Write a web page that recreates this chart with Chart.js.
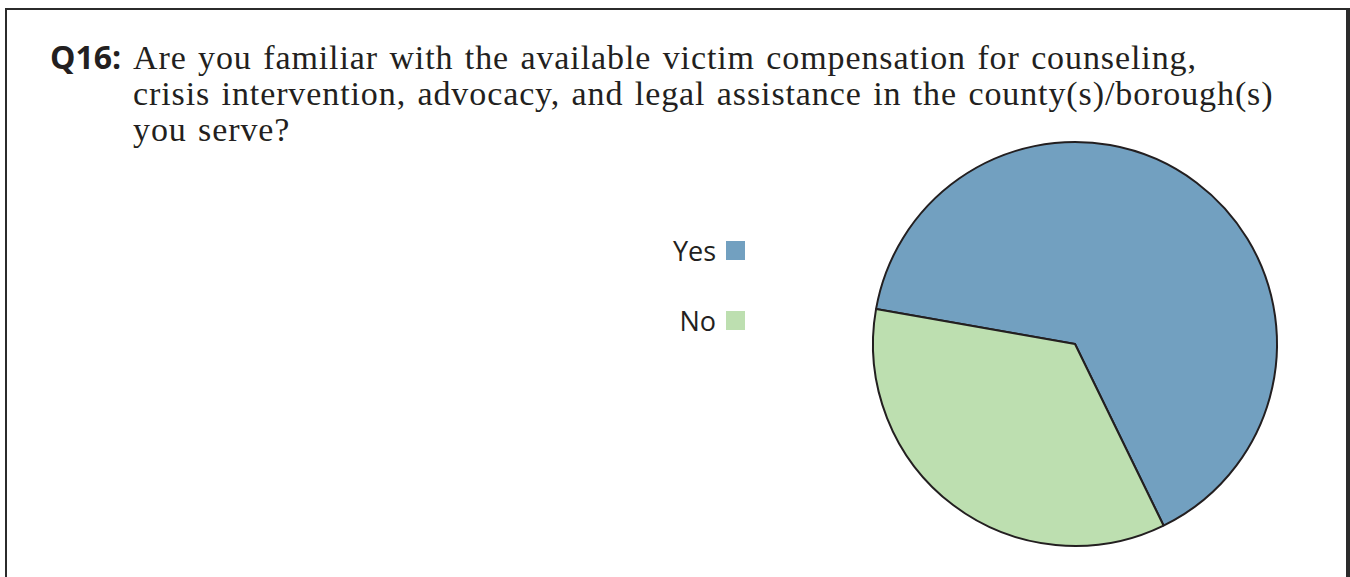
<!DOCTYPE html>
<html>
<head>
<meta charset="utf-8">
<script src="https://cdn.jsdelivr.net/npm/chart.js@4/dist/chart.umd.min.js"></script>
<style>
  html, body { margin: 0; padding: 0; background: #fff; }
  body { width: 1350px; height: 577px; position: relative; overflow: hidden; }
  .frame {
    position: absolute; left: 5px; top: 8px; width: 1345px; height: 600px;
    border-left: 2.5px solid #2b2b2b; border-top: 2.5px solid #2b2b2b;
    border-right: 4px solid #2b2b2b; box-sizing: border-box;
  }
  .qnum {
    position: absolute; left: 50px; top: 39px;
    font-family: "Open Sans", sans-serif; font-weight: 700; font-size: 32px;
    line-height: 36px; color: #231f20;
  }
  .qtext {
    position: absolute; left: 133px; top: 40px;
    font-family: "Liberation Serif", serif; font-size: 34px; line-height: 36px;
    letter-spacing: 0.9px; word-spacing: 2px;
    color: #231f20; white-space: nowrap;
  }
  #legend { position: absolute; left: 600px; top: 230px; width: 145px; }
  .item {
    display: flex; justify-content: flex-end; align-items: center;
    height: 40px; margin-bottom: 30px;
    font-family: "Open Sans", sans-serif; font-size: 27px; color: #231f20;
  }
  .item .box { width: 19px; height: 19px; margin-left: 10px; }
  #pie { position: absolute; left: 865px; top: 134px; }
</style>
</head>
<body>
<div class="frame"></div>
<div class="qnum">Q16:</div>
<div class="qtext">Are you familiar with the available victim compensation for counseling,<br>crisis intervention, advocacy, and legal assistance in the county(s)/borough(s)<br>you serve?</div>
<div id="legend"></div>
<canvas id="pie" width="420" height="420"></canvas>
<script>
// Survey answers and their share of respondents (%)
const answers = ['Yes', 'No'];
const shares = [65, 35];
const sliceColors = ['#72a0c0', '#bddfb0'];

const chart = new Chart(document.getElementById('pie'), {
  type: 'pie',
  data: {
    labels: answers,
    datasets: [{
      data: shares,
      backgroundColor: sliceColors,
      borderColor: '#231f20',
      borderWidth: 2
    }]
  },
  options: {
    responsive: false,
    animation: false,
    radius: 202,
    rotation: -80,
    layout: { padding: 0 },
    plugins: {
      legend: { display: false },
      tooltip: { enabled: false }
    }
  }
});

// Legend built from the chart's own legend items: label on the left, swatch on the right
const legendEl = document.getElementById('legend');
chart.options.plugins.legend.labels.generateLabels(chart).forEach(item => {
  const row = document.createElement('div');
  row.className = 'item';
  const label = document.createElement('span');
  label.textContent = item.text;
  const box = document.createElement('span');
  box.className = 'box';
  box.style.background = item.fillStyle;
  row.appendChild(label);
  row.appendChild(box);
  legendEl.appendChild(row);
});
</script>
</body>
</html>
